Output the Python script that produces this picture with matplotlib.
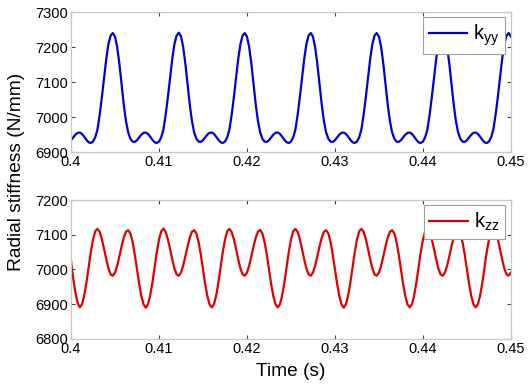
# radial stiffness k_yy / k_zz over time
import numpy as np
import matplotlib
matplotlib.use('Agg')
import matplotlib.pyplot as plt

plt.rcParams['font.family'] = ['Liberation Sans', 'DejaVu Sans']
plt.rcParams['mathtext.default'] = 'regular'

# values, one sample every 0.25 ms from 0.4 s to 0.45 s
k_yy = [
    6934, 6942, 6950, 6955, 6956, 6952, 6944, 6935, 6928, 6926, 6930, 6942, 6964, 7005, 7055, 7110, 7165, 7208, 7233,
    7240, 7230, 7200, 7152, 7092, 7035, 6988, 6956, 6938, 6930, 6929, 6934, 6942, 6950, 6955, 6956, 6952, 6944, 6935, 6928, 6926, 6930, 6942, 6964, 7005, 7055, 7110, 7165, 7208, 7233,
    7241, 7231, 7200, 7152, 7092, 7035, 6988, 6956, 6938, 6930, 6929, 6934, 6942, 6950, 6955, 6956, 6952, 6944, 6935, 6928, 6926, 6930, 6942, 6964, 7005, 7055, 7110, 7165, 7208, 7233,
    7240, 7230, 7200, 7152, 7092, 7035, 6988, 6956, 6938, 6930, 6929, 6934, 6942, 6950, 6955, 6956, 6952, 6944, 6935, 6928, 6926, 6930, 6942, 6964, 7005, 7055, 7110, 7165, 7208, 7233,
    7240, 7230, 7199, 7151, 7092, 7035, 6988, 6956, 6938, 6930, 6929, 6934, 6942, 6950, 6955, 6956, 6952, 6944, 6935, 6928, 6926, 6930, 6942, 6964, 7005, 7055, 7110, 7165, 7208, 7233,
    7240, 7230, 7200, 7152, 7092, 7035, 6988, 6956, 6938, 6930, 6929, 6934, 6942, 6950, 6955, 6956, 6952, 6944, 6935, 6928, 6926, 6930, 6942, 6964, 7005, 7055, 7110, 7165, 7208, 7233,
    7241, 7230, 7200, 7152, 7092, 7035, 6988, 6956, 6938, 6930, 6929, 6934, 6942, 6950, 6955, 6956, 6952, 6944, 6935, 6928, 6926, 6930, 6942, 6964, 7005, 7055, 7110, 7165, 7208, 7233,
    7240, 7230,
]
k_zz = [
    7025, 6975, 6933, 6904,
    6891, 6900, 6925, 6962, 7006, 7050, 7086, 7110, 7117, 7109, 7088, 7060, 7030, 7003, 6986, 6982, 6991, 7011, 7038, 7067, 7092, 7109, 7113, 7104, 7079, 7043, 7000, 6958, 6923, 6899,
    6890, 6900, 6925, 6962, 7006, 7050, 7086, 7110, 7118, 7109, 7088, 7060, 7030, 7003, 6986, 6982, 6991, 7011, 7038, 7067, 7092, 7109, 7113, 7104, 7079, 7043, 7000, 6958, 6923, 6899,
    6891, 6900, 6925, 6962, 7006, 7050, 7086, 7110, 7117, 7109, 7088, 7060, 7030, 7003, 6986, 6982, 6991, 7011, 7038, 7067, 7092, 7109, 7114, 7104, 7079, 7043, 7000, 6958, 6923, 6899,
    6891, 6900, 6925, 6962, 7006, 7050, 7086, 7110, 7117, 7109, 7088, 7060, 7030, 7003, 6986, 6982, 6991, 7011, 7038, 7067, 7092, 7109, 7113, 7104, 7079, 7043, 7000, 6958, 6923, 6899,
    6890, 6900, 6925, 6962, 7006, 7050, 7086, 7110, 7117, 7109, 7088, 7060, 7030, 7003, 6986, 6982, 6991, 7011, 7038, 7067, 7092, 7109, 7113, 7104, 7079, 7043, 7000, 6958, 6923, 6899,
    6891, 6900, 6925, 6962, 7006, 7050, 7086, 7110, 7118, 7109, 7088, 7060, 7030, 7003, 6986, 6982, 6991, 7011, 7038, 7067, 7092, 7109, 7113, 7104, 7079, 7043, 7000, 6958, 6923, 6899,
    6891, 6900, 6925, 6962, 7006, 7050, 7086, 7110, 7117, 7109, 7088, 7060, 7030, 7003, 6986, 6982, 6991,
]
time = np.linspace(0.4, 0.45, len(k_yy))

x_ticks = [0.4, 0.41, 0.42, 0.43, 0.44, 0.45]
x_labels = ['0.4', '0.41', '0.42', '0.43', '0.44', '0.45']
yy_ticks = [6900, 7000, 7100, 7200, 7300]
zz_ticks = [6800, 6900, 7000, 7100, 7200]

fig = plt.figure(figsize=(5.3, 3.9), dpi=100)
ax1 = fig.add_axes([0.134, 0.610, 0.830, 0.359])
ax2 = fig.add_axes([0.134, 0.131, 0.830, 0.356])

series = [(ax1, k_yy, '#0000d8', r'k$_{yy}$', yy_ticks),
          (ax2, k_zz, '#e00000', r'k$_{zz}$', zz_ticks)]

for ax, vals, col, lab, yt in series:
    ax.plot(time, vals, color=col, lw=1.6, label=lab)
    ax.set_xlim(0.4, 0.45)
    ax.set_ylim(yt[0], yt[-1])
    ax.set_xticks(x_ticks)
    ax.set_xticklabels(x_labels)
    ax.set_yticks(yt)
    ax.tick_params(direction='in', length=3, width=0.8, color='#404040',
                   labelsize=10.5, pad=2, top=True, right=True)
    for s in ax.spines.values():
        s.set_color('#c8c8c8')
        s.set_linewidth(0.9)
    leg = ax.legend(loc='upper right', bbox_to_anchor=(1 - 6 / 440, 1 - 5 / 140),
                    borderaxespad=0, fontsize=14.5, fancybox=False, framealpha=1,
                    handlelength=1.9, handletextpad=0.3, borderpad=0.28)
    leg.get_frame().set_edgecolor('#a0a0a0')
    leg.get_frame().set_linewidth(0.8)

ax2.set_xlabel('Time (s)', fontsize=13.8, labelpad=5)
fig.text(0.032, 0.559, 'Radial stiffness (N/mm)', rotation=90,
         ha='center', va='center', fontsize=13.8)

fig.savefig('out.png', dpi=100)
